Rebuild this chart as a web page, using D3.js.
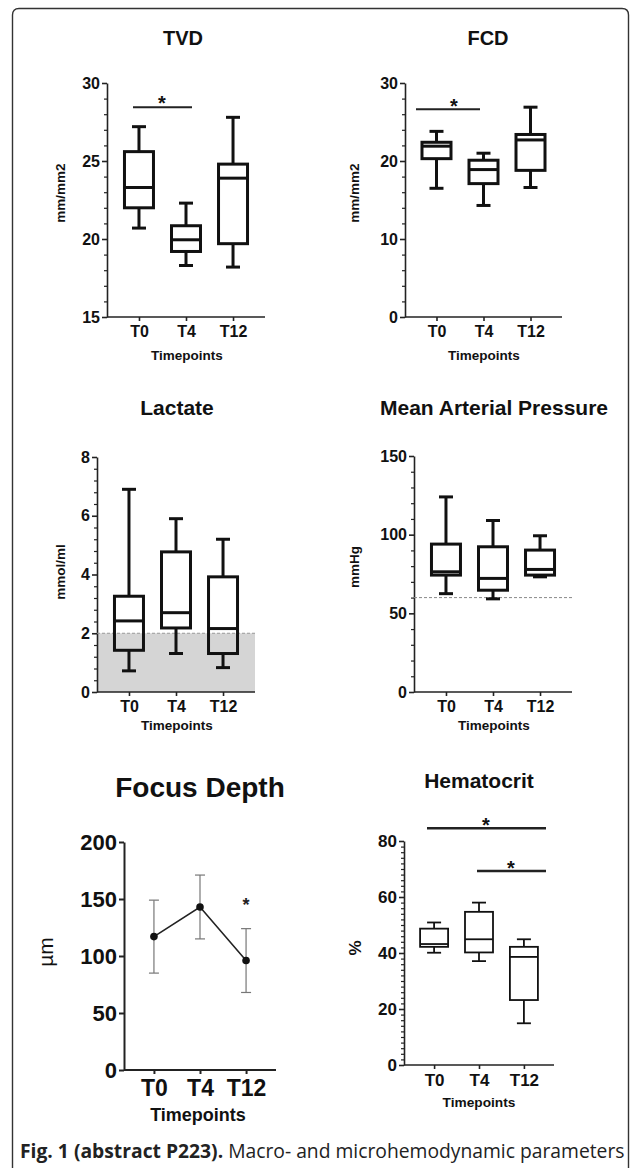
<!DOCTYPE html>
<html><head><meta charset="utf-8">
<script src="https://cdn.jsdelivr.net/npm/d3@7"></script>
<style>
html,body{margin:0;padding:0;background:#fff;}
svg text{font-family:"Liberation Sans",Arial,Helvetica,sans-serif;}
svg text.cap{font-family:"Open Sans","Noto Sans",sans-serif;}
</style></head>
<body><svg id="c" width="634" height="1168"></svg>
<script>
// ---------- DATA ----------
const categories = ["T0", "T4", "T12"];
// box stats: [min, q1, median, q3, max]
const tvdStats = [[20.7, 22.0, 23.3, 25.6, 27.2], [18.3, 19.2, 19.95, 20.85, 22.3], [18.2, 19.7, 23.9, 24.8, 27.8]];
const fcdStats = [[16.5, 20.3, 21.9, 22.4, 23.8], [14.3, 17.1, 18.9, 20.1, 21.0], [16.6, 18.8, 22.7, 23.4, 26.9]];
const lactateStats = [[0.72, 1.42, 2.42, 3.26, 6.9], [1.31, 2.18, 2.7, 4.77, 5.9], [0.83, 1.31, 2.16, 3.92, 5.2]];
const mapStats = [[62.5, 74.3, 76.4, 94.0, 124], [59.2, 64.7, 72.2, 92.3, 109], [73.2, 74.3, 77.9, 90.2, 99.3]];
const hctStats = [[40.1, 42.2, 43.2, 48.7, 50.9], [37.1, 40.2, 44.9, 54.7, 58.0], [14.9, 23.2, 38.6, 42.2, 44.9]];
const focusMean = [117, 143, 96];
const focusSD = [32, 28, 28];
const tvdTicks = [15, 20, 25, 30];
const fcdTicks = [0, 10, 20, 30];
const lactateTicks = [0, 2, 4, 6, 8];
const mapTicks = [0, 50, 100, 150];
const focusTicks = [0, 50, 100, 150, 200];
const hctTicks = [0, 20, 40, 60, 80];
const lactateNormal = 2;
const mapThreshold = 60;

const svg = d3.select("#c");
const FONT = '"Liberation Sans",Arial,Helvetica,sans-serif';

// frame
svg.append("path")
  .attr("d", "M12.5,1190 L12.5,15 Q12.5,8.5 19,8.5 L622,8.5 Q628.5,8.5 628.5,15 L628.5,1190")
  .attr("fill", "none").attr("stroke", "#333").attr("stroke-width", 1.4);

function panel(o) {
  const g = svg.append("g");
  const y = d3.scaleLinear().domain(o.domain).range([o.yBottom, o.yTop]);
  const x = d3.scalePoint().domain(categories).range([o.axisX, o.xEnd]).padding(o.pad);
  g.append("text").attr("x", o.titleX).attr("y", o.titleY).attr("text-anchor", "middle")
    .attr("font-weight", "bold").attr("font-size", o.titleSize).attr("fill", "#111").text(o.title);
  if (o.minorStep) {
    const minors = d3.range(o.domain[0], o.domain[1] + 1e-9, o.minorStep).filter(v => !o.ticks.some(t => Math.abs(t - v) < 1e-6));
    g.append("g").attr("transform", `translate(${o.axisX},0)`)
      .call(d3.axisLeft(y).tickValues(minors).tickSize(3).tickFormat(""))
      .call(s => { s.select(".domain").remove(); s.selectAll("line").attr("stroke", "#222").attr("stroke-width", 1.2); });
  }
  const ya = g.append("g").attr("transform", `translate(${o.axisX},0)`)
    .call(d3.axisLeft(y).tickValues(o.ticks).tickSize(5).tickSizeOuter(0).tickPadding(2));
  ya.select(".domain").attr("stroke", "#222").attr("stroke-width", o.axisW);
  ya.selectAll(".tick line").attr("stroke", "#222").attr("stroke-width", o.axisW);
  ya.selectAll("text").attr("font-family", FONT).attr("font-weight", "bold").attr("font-size", o.tickSize).attr("fill", "#111");
  const xa = g.append("g").attr("transform", `translate(0,${o.yBottom})`)
    .call(d3.axisBottom(x).tickSize(4).tickSizeOuter(0).tickPadding(o.xPad));
  xa.select(".domain").attr("d", `M${o.axisX},0H${o.xEnd}`).attr("stroke", "#222").attr("stroke-width", o.axisW);
  xa.selectAll(".tick line").attr("stroke", "#222").attr("stroke-width", o.axisW);
  xa.selectAll("text").attr("font-family", FONT).attr("font-weight", "bold").attr("font-size", o.xTickSize).attr("fill", "#111");
  g.append("text").attr("x", o.xTitleX).attr("y", o.xTitleY).attr("text-anchor", "middle")
    .attr("font-weight", "bold").attr("font-size", o.xTitleSize).attr("fill", "#111").text("Timepoints");
  g.append("text").attr("transform", `translate(${o.yTitleX},${o.yTitleY}) rotate(-90)`)
    .attr("text-anchor", "middle").attr("dominant-baseline", "central")
    .attr("font-weight", o.yTitleWeight || "bold").attr("font-size", o.yTitleSize).attr("fill", "#111").text(o.yTitle);
  return {g, x, y};
}

function boxes(p, stats, bw, sw, cw) {
  const bg = p.g.append("g").attr("fill", "none").attr("stroke", "#111").attr("stroke-width", sw);
  stats.forEach((s, i) => {
    const cx = p.x(categories[i]);
    bg.append("line").attr("x1", cx).attr("x2", cx).attr("y1", p.y(s[4])).attr("y2", p.y(s[3]));
    bg.append("line").attr("x1", cx).attr("x2", cx).attr("y1", p.y(s[1])).attr("y2", p.y(s[0]));
    bg.append("line").attr("x1", cx - cw / 2).attr("x2", cx + cw / 2).attr("y1", p.y(s[4])).attr("y2", p.y(s[4]));
    bg.append("line").attr("x1", cx - cw / 2).attr("x2", cx + cw / 2).attr("y1", p.y(s[0])).attr("y2", p.y(s[0]));
    bg.append("rect").attr("x", cx - bw / 2).attr("width", bw).attr("y", p.y(s[3])).attr("height", p.y(s[1]) - p.y(s[3]));
    bg.append("line").attr("x1", cx - bw / 2).attr("x2", cx + bw / 2).attr("y1", p.y(s[2])).attr("y2", p.y(s[2]));
  });
}

function sig(g, x1, x2, y, sx, sy, w) {
  g.append("line").attr("x1", x1).attr("x2", x2).attr("y1", y).attr("y2", y).attr("stroke", "#222").attr("stroke-width", w);
  g.append("text").attr("x", sx).attr("y", sy).attr("text-anchor", "middle").attr("font-weight", "bold")
    .attr("font-size", 20).attr("fill", "#111").text("*");
}

// ---- TVD ----
const pTVD = panel({title: "TVD", titleX: 183, titleY: 45, titleSize: 20, domain: [15, 30], ticks: tvdTicks, minorStep: 1,
  axisX: 107, xEnd: 265, pad: 0.68, yTop: 83, yBottom: 317, axisW: 1.6, tickSize: 16, xTickSize: 16, xPad: 5,
  xTitleX: 187, xTitleY: 360, xTitleSize: 13.5, yTitle: "mm/mm2", yTitleX: 60, yTitleY: 193, yTitleSize: 13.5});
boxes(pTVD, tvdStats, 29, 3, 14);
sig(pTVD.g, 133, 192, 107.3, 162, 110, 2);

// ---- FCD ----
const pFCD = panel({title: "FCD", titleX: 488, titleY: 45, titleSize: 20, domain: [0, 30], ticks: fcdTicks, minorStep: 2,
  axisX: 405, xEnd: 562, pad: 0.67, yTop: 83, yBottom: 317, axisW: 1.6, tickSize: 16, xTickSize: 16, xPad: 5,
  xTitleX: 484, xTitleY: 360, xTitleSize: 13.5, yTitle: "mm/mm2", yTitleX: 354, yTitleY: 193, yTitleSize: 13.5});
boxes(pFCD, fcdStats, 29, 3, 14);
sig(pFCD.g, 416, 480, 109.3, 454, 113, 2);

// ---- Lactate ----
const pLac = panel({title: "Lactate", titleX: 177, titleY: 415, titleSize: 21, domain: [0, 8], ticks: lactateTicks, minorStep: 0.4,
  axisX: 97, xEnd: 255, pad: 0.68, yTop: 457, yBottom: 692, axisW: 1.6, tickSize: 16, xTickSize: 16, xPad: 5,
  xTitleX: 177, xTitleY: 730, xTitleSize: 13.5, yTitle: "mmol/ml", yTitleX: 60, yTitleY: 572, yTitleSize: 13.5});
pLac.g.insert("rect", ":first-child").attr("x", 97).attr("width", 255 - 97)
  .attr("y", pLac.y(lactateNormal)).attr("height", pLac.y(0) - pLac.y(lactateNormal)).attr("fill", "#d5d5d5");
pLac.g.append("line").attr("x1", 97).attr("x2", 255).attr("y1", pLac.y(lactateNormal)).attr("y2", pLac.y(lactateNormal))
  .attr("stroke", "#999").attr("stroke-width", 1).attr("stroke-dasharray", "3,2");
boxes(pLac, lactateStats, 29, 3, 14);

// ---- MAP ----
const pMAP = panel({title: "Mean Arterial Pressure", titleX: 494, titleY: 415, titleSize: 21, domain: [0, 150], ticks: mapTicks, minorStep: 10,
  axisX: 414, xEnd: 572, pad: 0.68, yTop: 456, yBottom: 692, axisW: 1.6, tickSize: 16, xTickSize: 16, xPad: 5,
  xTitleX: 494, xTitleY: 730, xTitleSize: 13.5, yTitle: "mmHg", yTitleX: 354, yTitleY: 567, yTitleSize: 13.5});
pMAP.g.append("line").attr("x1", 414).attr("x2", 572).attr("y1", pMAP.y(mapThreshold)).attr("y2", pMAP.y(mapThreshold))
  .attr("stroke", "#888").attr("stroke-width", 1).attr("stroke-dasharray", "3,2");
boxes(pMAP, mapStats, 29, 3, 14);

// ---- Focus Depth ----
const pFoc = panel({title: "Focus Depth", titleX: 200, titleY: 797, titleSize: 28, domain: [0, 200], ticks: focusTicks, minorStep: 0,
  axisX: 124, xEnd: 276, pad: 0.65, yTop: 842, yBottom: 1070, axisW: 2, tickSize: 22, xTickSize: 23, xPad: 6,
  xTitleX: 198, xTitleY: 1121, xTitleSize: 18, yTitle: "µm", yTitleX: 45, yTitleY: 952, yTitleSize: 21, yTitleWeight: "normal"});
const fg = pFoc.g.append("g");
focusMean.forEach((m, i) => {
  const cx = pFoc.x(categories[i]);
  fg.append("line").attr("x1", cx).attr("x2", cx).attr("y1", pFoc.y(m + focusSD[i])).attr("y2", pFoc.y(m - focusSD[i]))
    .attr("stroke", "#777").attr("stroke-width", 1.2);
  [m + focusSD[i], m - focusSD[i]].forEach(v => fg.append("line").attr("x1", cx - 5).attr("x2", cx + 5)
    .attr("y1", pFoc.y(v)).attr("y2", pFoc.y(v)).attr("stroke", "#777").attr("stroke-width", 1.2));
});
fg.append("path").datum(focusMean)
  .attr("d", d3.line().x((d, i) => pFoc.x(categories[i])).y(d => pFoc.y(d)))
  .attr("fill", "none").attr("stroke", "#222").attr("stroke-width", 1.6);
fg.selectAll("circle").data(focusMean).join("circle")
  .attr("cx", (d, i) => pFoc.x(categories[i])).attr("cy", d => pFoc.y(d)).attr("r", 3.8).attr("fill", "#111");
fg.append("text").attr("x", pFoc.x("T12")).attr("y", 911).attr("text-anchor", "middle").attr("font-weight", "bold")
  .attr("font-size", 18).attr("fill", "#222").text("*");

// ---- Hematocrit ----
const pHct = panel({title: "Hematocrit", titleX: 479, titleY: 788, titleSize: 21, domain: [0, 80], ticks: hctTicks, minorStep: 2,
  axisX: 404, xEnd: 554, pad: 0.67, yTop: 841, yBottom: 1065, axisW: 1.6, tickSize: 17, xTickSize: 17, xPad: 5,
  xTitleX: 479, xTitleY: 1107, xTitleSize: 13.7, yTitle: "%", yTitleX: 355, yTitleY: 948, yTitleSize: 17});
boxes(pHct, hctStats, 28, 1.8, 14);
sig(pHct.g, 427, 546, 828.3, 486, 832, 2.4);
sig(pHct.g, 477, 546, 871, 511, 875, 2.4);

// ---- caption ----
const cap = svg.append("text").attr("class", "cap").attr("x", 20).attr("y", 1158)
  .attr("font-size", 17).attr("fill", "#222");
cap.append("tspan").attr("font-weight", "bold").text("Fig. 1 (abstract P223).");
cap.append("tspan").attr("font-weight", "normal").text(" Macro- and microhemodynamic parameters");
const len = cap.node().getComputedTextLength();
cap.attr("font-size", 17 * 605 / len);
</script></body></html>
